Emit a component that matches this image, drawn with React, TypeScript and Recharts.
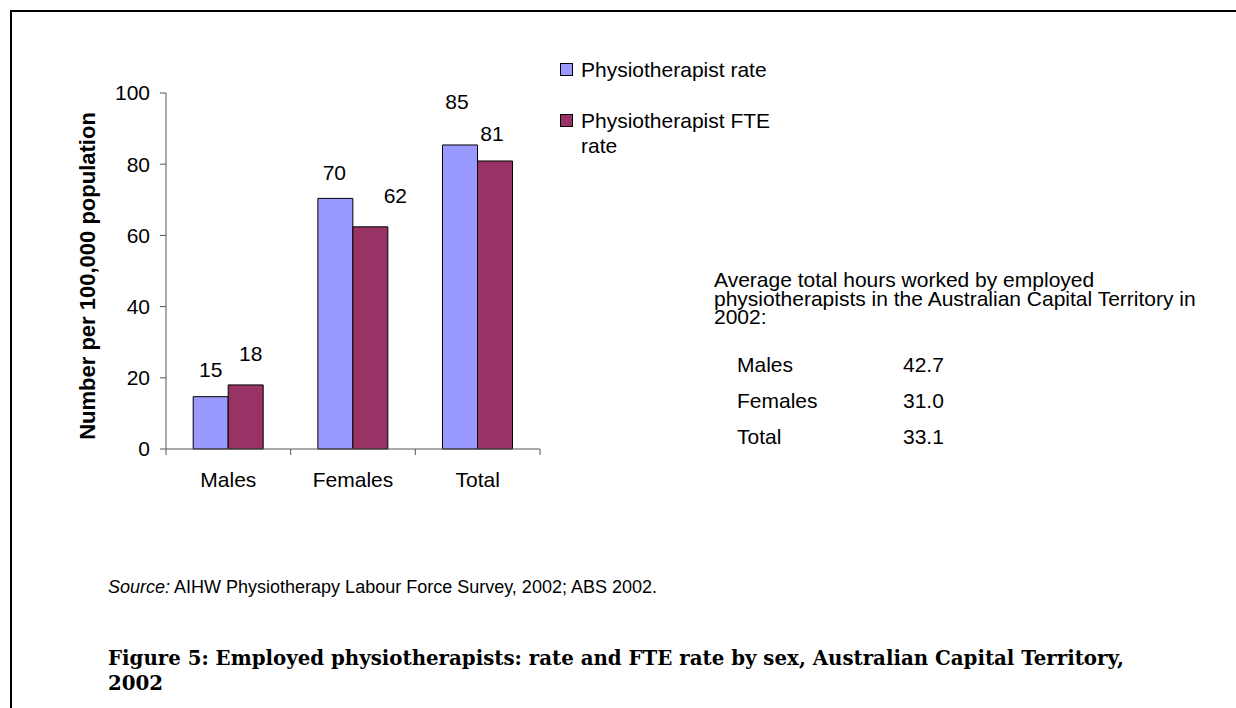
import React from 'react';
import { BarChart, Bar, XAxis, YAxis, LabelList } from 'recharts';

const categories = ['Males', 'Females', 'Total'];
const rateValues = [14.7, 70.4, 85.4];
const fteValues = [18.0, 62.4, 80.9];
const yTicks = [0, 20, 40, 60, 80, 100];
const seriesNames = ['Physiotherapist rate', 'Physiotherapist FTE rate'];
const hoursCategories = ['Males', 'Females', 'Total'];
const hoursValues = ['42.7', '31.0', '33.1'];

const data = categories.map((c, i) => ({ name: c, rate: rateValues[i], fte: fteValues[i] }));

const FONT = '"Liberation Sans", Arial, sans-serif';
const FS = 21;
const BLUE = '#9999FF';
const RED = '#993366';
const AXIS = '#555555';

const CHART_W = 560;
const CHART_H = 500;
const MARGIN = { top: 93, right: 20, bottom: 21, left: 106 };
const Y_W = 60;
const X_H = 30;
const PLOT_W = CHART_W - MARGIN.left - Y_W - MARGIN.right;

const RATE_NUDGE = [{ dx: 0, dy: -27 }, { dx: -1, dy: -26 }, { dx: -3, dy: -43 }];
const FTE_NUDGE = [{ dx: 5, dy: -31 }, { dx: 25, dy: -31 }, { dx: -3, dy: -27 }];

const makeLabel = (nudge: { dx: number; dy: number }[]) => (props: any) => {
  const { x, y, width, value, index } = props;
  const n = nudge[index] || { dx: 0, dy: -25 };
  return (
    <text
      x={Number(x) + Number(width) / 2 + n.dx}
      y={Number(y) + n.dy}
      textAnchor="middle"
      dominantBaseline="central"
      fontFamily={FONT}
      fontSize={FS}
      fill="#000"
    >
      {Math.round(Number(value))}
    </text>
  );
};

const XTick = (props: any) => {
  const { x, y, payload, index } = props;
  const band = PLOT_W / categories.length;
  const axisY = Number(y) - 8;
  const left = Number(x) - band / 2;
  return (
    <g>
      <line x1={left} y1={axisY} x2={left} y2={axisY + 6} stroke={AXIS} strokeWidth={1} />
      {index === categories.length - 1 && (
        <line x1={left + band} y1={axisY} x2={left + band} y2={axisY + 6} stroke={AXIS} strokeWidth={1} />
      )}
      <text
        x={x}
        y={axisY + 30}
        textAnchor="middle"
        dominantBaseline="central"
        fontFamily={FONT}
        fontSize={FS}
        fill="#000"
      >
        {payload.value}
      </text>
    </g>
  );
};

const YLabel = (props: any) => {
  const vb = props.viewBox || {};
  const cx = Number(vb.x) - 19;
  const cy = Number(vb.y) + Number(vb.height) / 2 + 5;
  return (
    <text
      x={cx}
      y={cy}
      transform={`rotate(-90, ${cx}, ${cy})`}
      textAnchor="middle"
      dominantBaseline="central"
      fontFamily={FONT}
      fontSize={22}
      fontWeight="bold"
      fill="#000"
    >
      Number per 100,000 population
    </text>
  );
};

const textBase: React.CSSProperties = {
  position: 'absolute',
  fontFamily: FONT,
  fontSize: FS,
  color: '#000',
  whiteSpace: 'nowrap',
  lineHeight: '18px',
};

export default function App() {
  return (
    <div style={{ position: 'absolute', left: 0, top: 0, width: 1236, height: 708, background: '#fff', overflow: 'hidden' }}>
      <div
        style={{
          position: 'absolute',
          left: 10,
          top: 10,
          width: 1226,
          height: 698,
          borderTop: '2px solid #000',
          borderLeft: '2px solid #000',
          boxSizing: 'border-box',
        }}
      />
      <div style={{ position: 'absolute', left: 0, top: 0 }}>
        <BarChart width={CHART_W} height={CHART_H} data={data} margin={MARGIN} barCategoryGap="21.8%" barGap={0}>
          <YAxis
            width={Y_W}
            domain={[0, 100]}
            ticks={yTicks}
            interval={0}
            tickSize={6}
            tickMargin={10}
            axisLine={{ stroke: AXIS }}
            tickLine={{ stroke: AXIS }}
            tick={{ fontFamily: FONT, fontSize: FS, fill: '#000' }}
            label={{ content: YLabel }}
          />
          <XAxis
            dataKey="name"
            height={X_H}
            tickLine={false}
            tickSize={0}
            tickMargin={8}
            axisLine={{ stroke: AXIS }}
            interval={0}
            tick={<XTick />}
          />
          <Bar dataKey="rate" name={seriesNames[0]} fill={BLUE} stroke="#000" strokeWidth={1} isAnimationActive={false}>
            <LabelList dataKey="rate" content={makeLabel(RATE_NUDGE)} />
          </Bar>
          <Bar dataKey="fte" name={seriesNames[1]} fill={RED} stroke="#000" strokeWidth={1} isAnimationActive={false}>
            <LabelList dataKey="fte" content={makeLabel(FTE_NUDGE)} />
          </Bar>
        </BarChart>
      </div>

      {/* Legend */}
      <div style={{ position: 'absolute', left: 560, top: 58 }}>
        <div style={{ position: 'relative', height: 100 }}>
          <div style={{ position: 'absolute', left: 0, top: 5, width: 13, height: 13, background: BLUE, border: '1px solid #000', boxSizing: 'border-box' }} />
          <div style={{ ...textBase, left: 21, top: 2, lineHeight: '20px' }}>{seriesNames[0]}</div>
          <div style={{ position: 'absolute', left: 0, top: 56, width: 13, height: 13, background: RED, border: '1px solid #000', boxSizing: 'border-box' }} />
          <div style={{ ...textBase, left: 21, top: 49.5, lineHeight: '25px' }}>
            Physiotherapist FTE
            <br />
            rate
          </div>
        </div>
      </div>

      {/* Hours table */}
      <div style={{ ...textBase, left: 714, top: 271, lineHeight: '18.5px' }}>
        Average total hours worked by employed
        <br />
        physiotherapists in the Australian Capital Territory in
        <br />
        2002:
      </div>
      {hoursCategories.map((c, i) => (
        <React.Fragment key={c}>
          <div style={{ ...textBase, left: 737, top: 356 + i * 36 }}>{c}</div>
          <div style={{ ...textBase, left: 903, top: 356 + i * 36 }}>{hoursValues[i]}</div>
        </React.Fragment>
      ))}

      {/* Source */}
      <div style={{ ...textBase, left: 108, top: 578, fontSize: 18, lineHeight: '18px' }}>
        <i>Source:</i> AIHW Physiotherapy Labour Force Survey, 2002; ABS 2002.
      </div>

      {/* Caption */}
      <div
        style={{
          position: 'absolute',
          left: 108,
          top: 646,
          fontFamily: '"DejaVu Serif", "Liberation Serif", serif',
          fontWeight: 'bold',
          fontSize: 19.8,
          lineHeight: '25px',
          color: '#000',
          whiteSpace: 'nowrap',
        }}
      >
        Figure 5: Employed physiotherapists: rate and FTE rate by sex, Australian Capital Territory,
        <br />
        2002
      </div>
    </div>
  );
}
